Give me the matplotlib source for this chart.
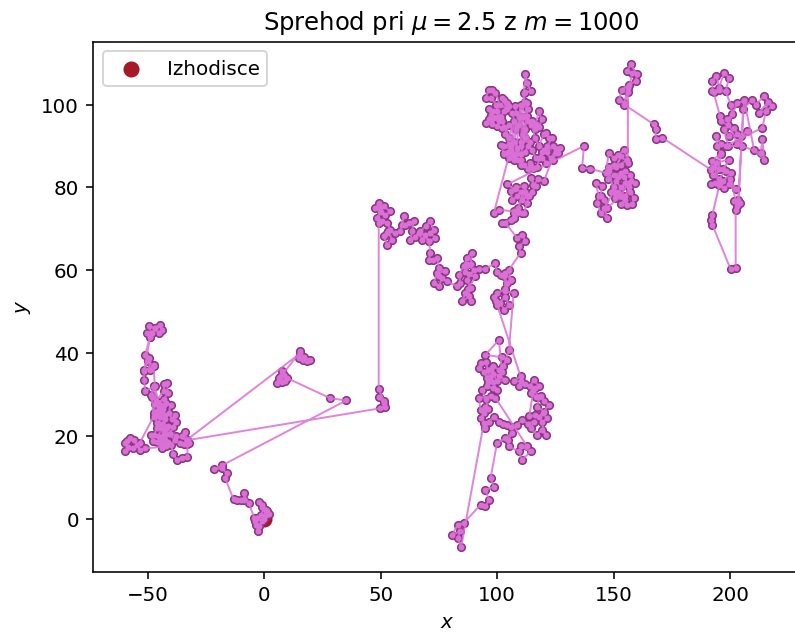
"""Sprehod pri mu=2.5, m=1000"""
import matplotlib
matplotlib.use("Agg")
import matplotlib.pyplot as plt
import numpy as np

# tocke odcitane s slike, po odsekih poti
origin_part = [(0, 0), (1.1, 1.8), (-0.8, 2.8), (-2.4, 4.2), (-1.0, 3.4), (0.8, 2.2), (2.0, 1.2), (0.6, 1.0),
               (-0.3, 2.4), (-1.4, 0.9), (-3.2, 0.2), (-4.2, -0.6), (-3.4, -1.4), (-2.8, -3.0), (-2.2, -1.6),
               (-1.0, -0.4), (-3.0, 0.2), (-4.3, 0.3), (-6.7, 3.8), (-8.9, 6.2), (-8.6, 4.6), (-10, 4.6), (-11.7, 4.6),
               (-13.2, 4.75), (-16.8, 9.8), (-16, 11), (-18.2, 12.2), (-21.5, 12), (-18.2, 12.9)]
hop_part = [(35.2, 28.6), (28.4, 29.1), (9.7, 34), (7.6, 35.6), (6.2, 34), (5.4, 32.9), (7.5, 33), (9, 33.4), (8.3, 34.8),
            (6.9, 34.2), (15.5, 40.4), (14.7, 38.8), (16.5, 38.3), (18.3, 38), (19.8, 38.4), (16.9, 39), (15.5, 40)]
left_core = [(-33.2, 19.1), (-34, 21), (-35.4, 19.9), (-32.5, 18.3), (-34.5, 18), (-36, 18.3), (-33, 18.0), (-33, 15),
             (-35.5, 14.8), (-37.5, 14.2), (-39.2, 15.7), (-39.9, 17.9), (-38.5, 19), (-40.5, 20.5), (-39.2, 22.2),
             (-38, 23.5), (-38.2, 25), (-39.5, 24), (-41, 25.5), (-40.2, 27.5), (-42, 28), (-43.5, 26.5), (-42.5, 25),
             (-44.5, 24.5), (-46, 26), (-45, 28), (-47, 27.8), (-47.5, 25.5), (-46, 23.2), (-44.2, 22.2),
             (-46.2, 22), (-47.2, 20.2), (-48.5, 20.3), (-47.8, 18.8), (-46, 18.5), (-44.5, 19.8), (-43, 21),
             (-41.5, 22.5), (-42.5, 20.2), (-41.2, 18.5), (-42, 17.5), (-44, 17), (-44.8, 18.2), (-43.2, 19.2),
             (-41, 20.5), (-44, 23), (-42.5, 24), (-44.5, 26), (-43, 27.5), (-45.5, 24.8), (-44, 22), (-45.5, 20),
             (-43.5, 18), (-44, 17.4)]
far_left = [(-51.1, 17), (-53.3, 16.7), (-54.7, 17.9), (-56, 19), (-57.6, 19.5), (-59, 18.8), (-59.7, 18.3),
            (-58.5, 17.3), (-59.7, 16.3), (-56.5, 17), (-53.5, 18.3), (-47.5, 24.7)]
left_up = [(-48.3, 29.5), (-47.5, 32), (-48.5, 30), (-46.5, 28.5), (-43.2, 30.8), (-43, 32.5), (-41.8, 32.8),
           (-41.3, 30.5), (-43, 29), (-46, 28), (-47.5, 32), (-51, 30.8), (-51.7, 33.6), (-51.5, 35.6),
           (-47.5, 37.2), (-49, 36), (-49.7, 38.8), (-51.1, 39.6), (-49, 44), (-50.2, 44.8), (-48.3, 44.8),
           (-49.7, 46.5), (-46.9, 46), (-44.8, 46.9), (-44, 45.6), (-45.4, 44.8), (-46.9, 46)]
left_back = [(-49, 44), (-51.5, 36), (-50, 38), (-47.5, 37), (-47, 32), (-45, 27), (-42, 22), (-38, 20), (-33, 19)]
jump_part = [(49.8, 26.7), (52, 27), (51.3, 27.9), (49.1, 29.4), (51.3, 28.5), (49.1, 31.3)]
chain_a = [(49.1, 71.4), (49.1, 76.2), (47.7, 75), (49.5, 75), (51.3, 75.4), (54.1, 74.2), (52, 73.4), (50, 74), (48.4, 72.6),
           (50.5, 72), (52.7, 71.4), (54.1, 69.8), (52.5, 69), (51.3, 68.2), (52.7, 66.2), (54.8, 67.4), (53, 69.5),
           (56, 69), (58.4, 69.4), (59.8, 73), (59.1, 71), (60.5, 71), (62, 71.4), (64.1, 71.8), (63.4, 69.4), (62.7, 67.4),
           (64.5, 68), (66.3, 69), (67.7, 67.4), (69, 68.5), (70.6, 67), (73.4, 67.8), (71.3, 69), (72.7, 69.8), (71, 71.8), (69.2, 70.6),
           (67, 69.4), (70.6, 67), (71.3, 64.2), (70.6, 62.6), (72.5, 62.5), (74.2, 63), (74.9, 60.5), (77.7, 59.8), (74.2, 59.3),
           (72.7, 56.9), (74.9, 56.1), (76.3, 58.1), (75, 58.5), (78.5, 57.3), (82.8, 56.1), (84.2, 56.9), (83.5, 58.9),
           (85.6, 61), (87, 63), (89.2, 64.2), (88.5, 61.4), (86, 59.5), (87, 61.5), (89.9, 60.1), (87, 57.7), (88.5, 55.7),
           (86.3, 54.5), (84.9, 52.5), (87.8, 53.7), (88.5, 52.5), (87.5, 55.5), (90.6, 58.5), (88, 59),
           (92, 60.3), (94.9, 60.3), (99.2, 61.8), (99.7, 59.7), (101.4, 58.9), (103.5, 59.3), (105.7, 57.7),
           (104.2, 56.9), (103, 58.5)]
small_part = [(103.5, 55.5), (100, 54.5), (98.5, 53.5), (99.5, 52.5), (101, 52.2), (103, 50.5), (105, 51.5), (103.5, 53.5),
              (99.9, 51.7)]
right_loop = [(110, 34.4), (107.1, 33.2), (110, 33.2), (109.2, 32), (112, 32.5), (114, 32), (115.7, 33.6), (117.8, 32),
              (116, 31.5), (114.3, 30.4), (116.5, 29.5), (118.6, 29.6), (120, 28.5), (122.1, 27.5), (120, 25.9), (117.1, 27.1),
              (118, 29.5), (115.5, 31), (113.7, 24.8), (116, 25), (117.8, 24.7), (119.5, 25.5), (121.4, 24.3), (119, 23.3),
              (120.7, 20.3), (119, 21.5), (117.1, 20.3), (114.3, 21.9), (115.7, 23.5), (113, 23), (110.7, 23.9), (108.5, 22.7),
              (105.7, 22.3), (104.2, 22.7), (102.5, 23), (100.7, 23.5), (98.5, 24.7), (96.4, 23.5), (94.9, 21.9)]
bottom_part = [(94.2, 23.1), (84.5, -6.8), (83, -4.7), (84, -3), (80.6, -3.9), (83, -1.4), (85.6, -1), (92.8, 3.4),
               (94.9, 3), (96.4, 4.6), (94.9, 7), (98.5, 7.8), (97.1, 9.8), (99.9, 18.4), (103.5, 19.5), (106.4, 20.7),
               (104.5, 19), (104.9, 17.5), (109.2, 16.3), (110.7, 14.3), (114.3, 16.3), (110, 17.5), (112.8, 17.5),
               (99.2, 29.2)]
main_col = [(97.1, 29.6), (92.1, 29.2), (92.8, 26.3), (94.9, 27.1), (94.5, 25.5), (92.8, 24.3), (96, 26.5),
            (95, 29), (93.5, 31.2), (95.6, 32), (98, 31.5), (99.9, 31.2), (98, 33), (95.5, 34), (97.1, 36),
            (100.7, 34.4), (103.5, 33.6), (100, 33.2), (98, 35), (96, 33), (94.5, 35.5), (92, 36.4), (92.8, 37.6), (95, 37.8),
            (97, 34), (96, 36), (98, 37), (100.7, 36), (102.5, 37), (104.2, 38.4), (102, 39), (94.9, 39.6), (100.7, 43.2), (102, 35.5),
            (105, 40.8), (107, 54.5), (103.5, 55), (105.7, 57.7)]
up_part = [(105, 60.1), (110, 64.2), (109.2, 65.8), (112.1, 67), (110.7, 68.6), (108.5, 67.8), (103.5, 71.4),
           (102.1, 71.4), (105.7, 72.2), (107.1, 72.6), (110.7, 73.8), (107.1, 74.2), (100.7, 74.6), (98.5, 73.8),
           (105.7, 89.1)]
top_core = [(103, 90), (101.4, 90.3), (102.8, 88.3), (104.5, 88.5), (106.4, 88.3), (105, 90.5), (103.5, 93), (105, 95),
            (103, 94.5), (102.1, 94.4), (100, 94.8), (97.8, 95.2), (95, 95.6), (96.5, 96.5), (97.8, 96.4), (100.7, 96),
            (100, 98.4), (98, 98.5), (96.4, 98.8), (97.5, 97.5), (99.5, 97), (101.5, 97), (102.8, 98.4), (105, 99.6),
            (104.2, 100.4), (102.8, 101.2), (102.1, 101.6), (104, 99), (101, 100), (99.2, 102.8), (97.8, 103.5),
            (96.4, 103.6), (95, 101.6), (97.5, 101.5), (99.5, 100), (102, 96), (105, 92), (107, 96), (106, 90), (108, 94),
            (106.5, 98), (108, 98), (107.8, 99.6), (110, 100), (109, 95), (107, 91), (108.5, 89.5), (110, 88), (112, 92),
            (111, 97), (113, 99), (112.8, 100.4), (112.1, 94), (114, 91), (110, 91), (111, 93), (109.5, 97), (108, 88),
            (110, 90), (111.4, 102.8), (112.1, 107.3), (112.8, 105.2), (114.3, 103.2), (112, 103), (110, 97), (112, 100.5),
            (112.8, 97.2), (113, 96), (114.5, 95), (116, 94), (116.4, 95.2), (117.8, 98.4), (119, 96.4), (118, 94.5),
            (115, 96), (116, 92), (118, 90), (120, 93), (120.7, 93.2), (122, 92), (123.6, 92), (121.5, 90), (121.5, 88.5),
            (124, 90), (127.1, 89.5), (126, 88.2), (125, 88.3), (124, 86.5), (121, 86), (119.3, 87.1), (119, 88.5), (117, 85),
            (115.5, 84.8), (114.3, 85.1), (114, 86), (113, 84.5), (111.5, 85.3), (110, 85.5), (110, 86.5), (107, 87.5),
            (103, 88), (105, 87), (107, 86.5), (109, 86.5), (112, 88.5), (113, 90), (115, 89), (116.5, 87), (118, 87),
            (120, 89), (123, 87), (125, 89)]
low_part = [(120, 81.5), (117.5, 82), (115.5, 80.5), (114.3, 82.3), (116.4, 80.3), (115, 79), (112.8, 77.9), (110.7, 77),
            (112, 79), (110, 79), (108.5, 77.9), (106.4, 77), (105.7, 79.1), (108, 80), (111.4, 80.3), (113.5, 78),
            (112.8, 76.3), (111.4, 73.8), (109, 74), (107.1, 73.8), (107.1, 72.6), (109, 75), (111, 79), (107.5, 79.5),
            (104.2, 80.7), (137.2, 90), (136.4, 84.7), (140, 84.5), (146.5, 83.5)]
right_b = [(147.9, 88.3), (150, 87.1), (152, 87.8), (154.4, 89.1), (155.8, 86.7), (152.9, 85.5), (150, 85.5), (148, 85),
           (147.5, 82), (150, 83), (153, 83.5), (155, 84), (157, 83), (159, 81), (157.5, 81.5), (157, 79), (155, 81),
           (153, 80), (151, 81.5), (149, 79), (151, 78.5), (152, 79), (155, 78), (156.5, 80), (158.5, 77.5), (157.9, 75.9),
           (155.5, 75.8), (152.9, 75.9), (155, 77), (150.5, 77.5), (150, 80), (152, 82.5), (154.5, 82.5), (156, 81),
           (153, 78), (147.2, 75), (146, 77), (144.3, 78), (145, 80.3), (142.2, 81.1), (143.6, 77.9), (142.9, 76.3),
           (144.3, 73.8), (147.2, 72.6), (146, 75), (150, 79), (148, 84), (151, 85), (153, 87.5), (156, 86)]
top_b = [(156.1, 104), (154.4, 100.4), (152.2, 101.2), (153.6, 103.6), (156.5, 104.8), (159.4, 105.6), (160, 107.3),
         (157.2, 109.7), (155.8, 108), (158, 107.5), (156, 103), (154.5, 100), (167.2, 95.2), (168, 94), (168, 91.6),
         (170.8, 92)]
right_d = [(191.6, 84.3), (192.3, 86.3), (195.9, 88.3), (194, 86), (199.5, 86.7), (197, 84.5), (192.5, 83), (195, 82),
           (198, 84), (200.2, 83.5), (197, 81.5), (191.6, 80.7), (193.5, 81), (195, 80.5), (197.5, 79.8), (199.5, 80.7),
           (202.3, 79.5), (200, 82), (203, 75.5), (201.6, 76.7), (204, 76.3), (202.3, 74.6), (202.3, 60.6),
           (200.2, 60.2), (192.3, 71), (191.6, 72.2), (192.3, 73.4), (195.5, 81), (193, 85), (195, 84.5), (196, 88),
           (194.5, 90), (193.7, 92.4), (195.9, 90.4), (199, 90), (197.3, 94), (199.5, 92.5), (201.6, 94.4), (203, 93),
           (204.5, 92.4), (207, 93.5), (203, 90.5), (198.7, 96.4), (200.9, 97.6), (200.2, 100), (198, 103.2), (195.2, 103.6),
           (192.3, 103.2), (192.3, 105.7), (194, 107), (195.2, 104), (197.3, 107.7), (199.5, 106.5), (198, 103.2), (192.8, 103),
           (195.6, 97.2), (195.9, 96), (199, 95), (203, 100.4), (205.9, 100.8), (203.5, 77), (205.5, 99), (209.5, 101.2), (210.9, 100),
           (214.5, 102), (218, 99.6), (215.2, 98.4), (212.3, 98), (216, 100.5), (213.8, 94.4), (198, 90), (205, 90), (213, 88.3),
           (213.8, 91.6), (214.5, 86.7), (210.2, 89.1), (206, 101)]

walk_parts = [origin_part, hop_part, left_core, far_left, left_up, left_back, jump_part, chain_a, small_part,
              right_loop, bottom_part, main_col, up_part, top_core, low_part, right_b, top_b, right_d]
walk = np.array([p for part in walk_parts for p in part])
start_x = [0]
start_y = [0]

fig = plt.figure(figsize=(795.5 / 143, 634.5 / 143), dpi=143)
# desni rob osi je na izvorni sliki odrezan
ax = fig.add_axes([93 / 795, 1 - 572 / 634, 716 / 795, 530 / 634])

ax.scatter(start_x, start_y, color="#a81728", s=50, label="Izhodisce", zorder=2)
ax.plot(walk[:, 0], walk[:, 1], "o", color="#8a3580", ms=4.6, mew=0, zorder=3)
ax.plot(walk[:, 0], walk[:, 1], "o", color="orchid", ms=3.0, mew=0, zorder=4)
ax.plot(walk[:, 0], walk[:, 1], "-", color="orchid", lw=1, alpha=0.85, zorder=4)

ax.set_xlim(-73.5, 234)
ax.set_ylim(-12.8, 115.2)
ax.set_xlabel("$x$", x=0.495)
ax.set_ylabel("$y$")
ax.set_title(r"Sprehod pri $\mu=2.5$ z $m=1000$", fontsize=12.2)
ax.legend(loc="upper left")

plt.savefig("out.png", dpi=143)
plt.close()
